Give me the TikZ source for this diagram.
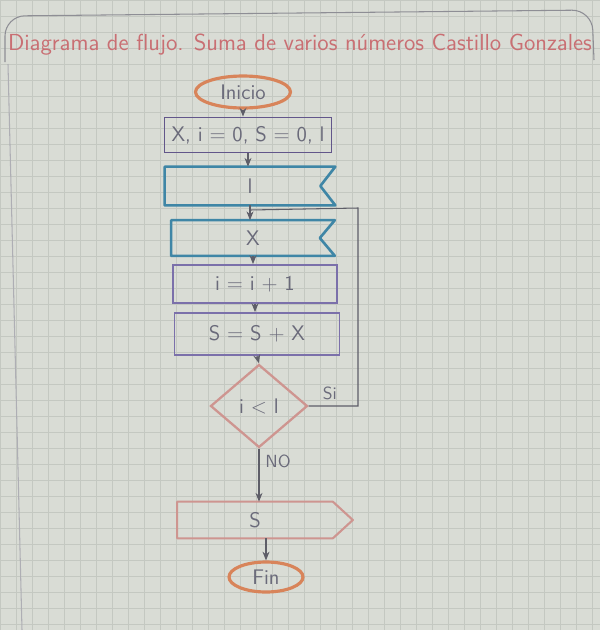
\documentclass[tikz,border=0pt]{standalone}
\usetikzlibrary{shapes.geometric,arrows.meta}
\definecolor{papel}{HTML}{D9DCD5}
\definecolor{cuadro}{HTML}{C4C8C1}
\definecolor{titulo}{HTML}{C96F73}
\definecolor{naranja}{HTML}{D8845A}
\definecolor{morado}{HTML}{62568A}
\definecolor{lila}{HTML}{7B70AA}
\definecolor{azul}{HTML}{3F86A6}
\definecolor{rosa}{HTML}{CE9590}
\definecolor{lapiz}{HTML}{5E5E68}
\definecolor{texto}{HTML}{6A6A7A}

\begin{document}
\begin{tikzpicture}[x=0.02cm, y=-0.02cm, font=\sffamily\fontsize{12}{14}\selectfont,
        terminal/.style={ellipse, draw=naranja, line width=1.8pt, text=texto, inner sep=0pt},
        proceso/.style={rectangle, draw=#1, line width=1.1pt, text=texto, inner sep=0pt},
        lectura/.style={rectangle, text=texto, inner sep=0pt},
        salida/.style={rectangle, text=texto, inner sep=0pt},
        decision/.style={diamond, draw=rosa, line width=1.3pt, text=texto, inner sep=0pt},
        flecha/.style={draw=lapiz, line width=0.6pt, -{Stealth[length=5pt, width=4pt]}},
        linea/.style={draw=lapiz, line width=0.6pt}]
    \useasboundingbox (0,0) rectangle (600,630);
    \fill[papel] (0,0) rectangle (600,630);
    \draw[cuadro, line width=0.4pt, step=0.32cm] (0,0) grid (600,630);
    % borde de la hoja
    \draw[lapiz!70, line width=0.6pt, rounded corners=0.4cm] (5,62) -- (5,16) -- (592,10) -- (594,60);
    \draw[lapiz!50, line width=0.6pt] (8,64) -- (22,630);

    \node[text=titulo, font=\sffamily\fontsize{13.2}{15}\selectfont] (tit) at (300,45)
        {Diagrama de flujo. Suma de varios números Castillo Gonzales};

    \node[terminal, minimum width=1.9cm, minimum height=0.64cm] (ini) at (243,92) {Inicio};
    \node[proceso=morado, minimum width=3.34cm, minimum height=0.7cm] (dat) at (248,135) {X, i = 0, S = 0, l};
    \node[lectura, minimum width=3.4cm, minimum height=0.76cm] (lee1) at (250,186) {l};
    \node[lectura, minimum width=3.26cm, minimum height=0.7cm] (lee2) at (253,238) {X};
    \node[proceso=lila, minimum width=3.28cm, minimum height=0.76cm] (inc) at (255,284) {i = i + 1};
    \node[proceso=lila, minimum width=3.3cm, minimum height=0.84cm] (suma) at (257,334) {S = S + X};
    \node[decision, minimum width=1.94cm, minimum height=1.66cm] (dec) at (259,406) {i < l};
    \node[salida, minimum width=3.1cm, minimum height=0.72cm] (sal) at (255,520) {S};
    \node[terminal, minimum width=1.48cm, minimum height=0.6cm] (fin) at (266,577) {Fin};

    % lectura: muesca a la derecha
    \foreach \n in {lee1,lee2} {
        \draw[azul, line width=1.5pt, line join=round] (\n.north west) -- (\n.north east)
            -- ([xshift=-0.3cm]\n.east) -- (\n.south east) -- (\n.south west) -- cycle;
    }
    % salida: punta a la derecha
    \draw[rosa, line width=1.2pt, line join=round] (sal.north west) -- (sal.north east)
        -- ([xshift=0.4cm]sal.east) -- (sal.south east) -- (sal.south west) -- cycle;

    \coordinate (esq) at (358,208);
    \coordinate (une) at (250,210);

    \draw[flecha] (ini.south) -- (ini.south |- dat.north);
    \draw[flecha] (dat.south) -- (dat.south |- lee1.north);
    \draw[flecha] (lee1.south) -- (lee1.south |- lee2.north);
    \draw[flecha] (lee2.south) -- (lee2.south |- inc.north);
    \draw[flecha] (inc.south) -- (inc.south |- suma.north);
    \draw[flecha] (suma.south) -- (dec.north);
    \draw[flecha] (dec.south) -- node[right, pos=0.25, text=texto, font=\sffamily\fontsize{10}{12}\selectfont] {NO} (dec.south |- sal.north);
    \draw[flecha] (sal.south -| fin.north) -- (fin.north);
    \draw[linea] (dec.east) -| node[above left, pos=0.35, text=texto, font=\sffamily\fontsize{10}{12}\selectfont] {Si} (esq) -- (une);
\end{tikzpicture}
\end{document}
